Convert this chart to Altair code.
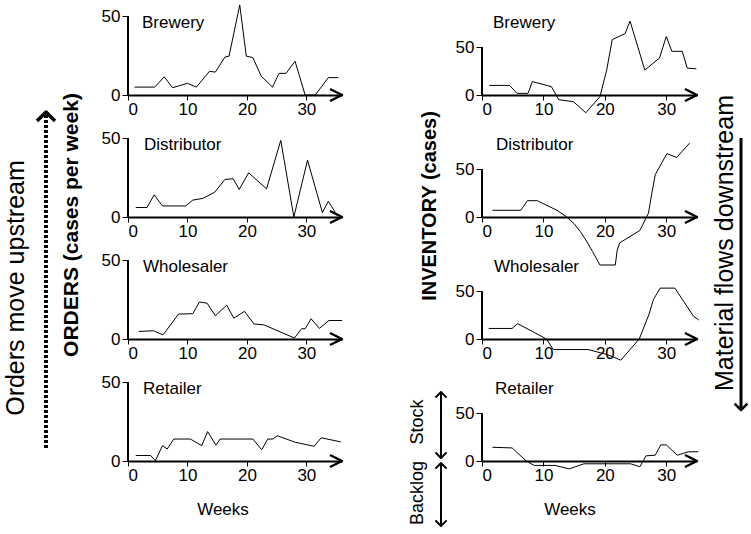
import altair as alt
import pandas as pd

FONT = "Liberation Sans"

# ---------------- data ----------------
# ORDERS (cases per week)
ord_brewery_w = [1.1, 4.5, 6.1, 7.5, 10, 11.5, 13.7, 14.7, 16.3, 17, 18.8, 19.9, 21, 22.4, 24.3, 25.4, 26.6, 28.1, 29.8, 31.5, 33.7, 35.4]
ord_brewery_v = [5, 5, 11.5, 4.6, 7.4, 5, 15, 14.5, 24, 24.6, 57, 24.6, 23.7, 12, 5, 13.7, 13.7, 21.4, 0, 0, 11, 11]

ord_distrib_w = [1.3, 3.2, 4.4, 5.8, 9.7, 10.9, 12.6, 14.6, 16.3, 17.7, 18.7, 20.3, 23.3, 25.7, 27.9, 30.2, 32.7, 33.7, 34.9]
ord_distrib_v = [6, 6, 14, 7, 7, 10.7, 11.8, 15.7, 23.8, 24.2, 17.4, 28, 17.8, 48.5, 0, 36, 2.8, 9.9, 2.8]

ord_wholes_w = [1.8, 4.3, 5.9, 8.5, 10.9, 12, 13.3, 14.7, 16.6, 17.8, 19.6, 21.2, 22.9, 28, 29.2, 29.8, 30.8, 32.2, 33.8, 36]
ord_wholes_v = [4.8, 5.2, 2.6, 15.8, 16, 23.4, 22.7, 14.7, 21.4, 13.2, 17.5, 9.5, 8.9, 0.6, 6.5, 6.5, 12.8, 6.7, 11.7, 11.7]

ord_retail_w = [1.3, 3.8, 4.6, 5.8, 6.6, 7.7, 10.5, 12.4, 13.4, 14.8, 15.5, 21, 22.5, 23.5, 24.4, 25.1, 28.1, 31.3, 32.5, 35.8]
ord_retail_v = [3.5, 3.5, 0.2, 9.7, 7.6, 13.9, 13.9, 9.7, 18.6, 10, 13.9, 13.9, 7.1, 13.9, 13.9, 16, 11.9, 9.3, 14.7, 12.1]

# INVENTORY (cases)
inv_brewery_w = [1.2, 4.5, 5.7, 7.5, 8.2, 11.3, 12.5, 14.9, 16.9, 19.2, 20.3, 21.2, 23.3, 24.1, 26.5, 28.9, 30, 30.9, 32.6, 33.4, 34.9]
inv_brewery_v = [10, 10, 1.7, 1.7, 14, 8.7, -4.9, -7, -18.5, -1.7, 26, 57.7, 64, 77, 26, 38.5, 61, 45.5, 45.5, 28, 27.3]

inv_distrib_w = [1.7, 6.3, 7.4, 9, 12.2, 13.8, 15, 16, 17, 18, 19.2, 21.7, 22, 22.4, 25.7, 27.1, 27.6, 28.2, 30.1, 31.7, 33.8]
inv_distrib_v = [7, 7, 17, 17, 7, 0, -7, -15, -25, -36, -50, -50, -35, -27, -14, 4, 23, 44, 66, 62, 77]

inv_wholes_w = [1.1, 4.9, 5.8, 10.5, 11.6, 17.3, 20.5, 22.6, 25.6, 27.2, 27.9, 29, 31.4, 34.4, 35.3]
inv_wholes_v = [11, 11, 16, 0, -11, -11, -16.5, -22, 0, 26, 41, 53, 53, 24, 19.7]

inv_retail_w = [1.7, 4.9, 7.2, 8.5, 11.9, 14.2, 16.6, 24.2, 25.7, 26.7, 28.2, 29.1, 30, 31.8, 33.6, 35.2]
inv_retail_v = [14.3, 13.6, 0, -4.6, -4.6, -8.2, -2.9, -2.9, -6, 5.4, 6, 16.8, 16.8, 6, 9.6, 9.6]

x_ticks = [0, 10, 20, 30]
y_ticks = [0, 50]

# ---------------- layout constants ----------------
H = 122          # panel height (px)
ZERO_PX = 79     # zero line distance from panel top
one = pd.DataFrame({"k": [0]})


def ann_text(text, x, y, size=17, bold=False, angle=0):
    return alt.Chart(one).mark_text(
        text=text, font=FONT, fontSize=size, fontWeight="bold" if bold else "normal",
        angle=angle, align="center", baseline="middle", color="black"
    ).encode(x=alt.value(x), y=alt.value(y))


def chevron(x, y, path, side, sw):
    return alt.Chart(one).mark_point(
        shape=path, size=side * side, filled=False, color="black", strokeWidth=sw,
        opacity=1, strokeJoin="round"
    ).encode(x=alt.value(x), y=alt.value(y))


def vrule(x, y1, y2, sw, dash=None):
    kw = dict(color="black", strokeWidth=sw)
    if dash:
        kw["strokeDash"] = dash
    return alt.Chart(one).mark_rule(**kw).encode(x=alt.value(x), y=alt.value(y1), y2=alt.value(y2))


def panel(weeks, vals, title, xmax, width, ppu, title_dx, extras=()):
    top = ZERO_PX / ppu
    bottom = -(H - ZERO_PX) / ppu
    df = pd.DataFrame({"week": weeks, "value": vals})
    xs = alt.Scale(domain=[0, xmax], nice=False, zero=False)
    ys = alt.Scale(domain=[bottom, top], nice=False, zero=False)
    x = alt.X("week:Q", scale=xs, axis=alt.Axis(
        values=x_ticks, offset=-(H - ZERO_PX), title=None, grid=False,
        domainWidth=2, domainColor="black", tickColor="black", tickWidth=1, tickSize=5,
        labelFontSize=17, labelFont=FONT, labelColor="black", labelPadding=1))
    y = alt.Y("value:Q", scale=ys, axis=alt.Axis(
        values=y_ticks, domain=False, title=None, grid=False, tickColor="black",
        tickWidth=1, tickSize=6, labelFontSize=17, labelFont=FONT, labelColor="black",
        labelPadding=2))
    line = alt.Chart(df).mark_line(color="black", strokeWidth=1).encode(x=x, y=y)
    yaxis_line = alt.Chart(one).mark_rule(color="black", strokeWidth=2).encode(
        x=alt.datum(0), y=alt.datum(0), y2=alt.datum(50))
    arrow = alt.Chart(one).mark_point(
        shape="M-1,-0.5L0,0L-1,0.5", size=576, filled=False, color="black",
        strokeWidth=2.5, opacity=1, strokeJoin="round").encode(x=alt.datum(xmax), y=alt.datum(0))
    ttl = alt.Chart(one).mark_text(text=title, font=FONT, fontSize=17, align="left",
                                   baseline="alphabetic", color="black").encode(
        x=alt.value(title_dx), y=alt.value(11.5))
    layers = [line, yaxis_line, arrow, ttl] + list(extras)
    return alt.layer(*layers).properties(width=width, height=H)


LW, RW = 214, 215
LPPU, RPPU = 79 / 50, 48 / 50

left_extras_top = [
    ann_text("ORDERS (cases per week)", -56, 209, 21, bold=True, angle=270),
    ann_text("Orders move upstream", -112, 272, 25, angle=270),
    vrule(-82, 99, 432, 4, dash=[3, 2]),
    chevron(-82, 96, "M-0.9,0.9L0,0L0.9,0.9", 20, 3.5),
]
right_extras_top = [
    ann_text("INVENTORY (cases)", -52, 190, 20, bold=True, angle=270),
    ann_text("Material flows downstream", 243, 227, 25, angle=270),
    vrule(259, 122, 392, 3),
    chevron(259, 394, "M-0.8,-0.8L0,0L0.8,-0.8", 16, 2.5),
]
left_extras_bot = [ann_text("Weeks", 95, 128, 17)]
right_extras_bot = [
    ann_text("Weeks", 88, 128, 17),
    ann_text("Stock", -64, 40, 18, angle=270),
    ann_text("Backlog", -64, 111, 18, angle=270),
    vrule(-41, 11, 75, 2),
    chevron(-41, 10, "M-0.8,0.8L0,0L0.8,0.8", 14, 2),
    chevron(-41, 76, "M-0.8,-0.8L0,0L0.8,-0.8", 14, 2),
    vrule(-41, 82, 143, 2),
    chevron(-41, 81, "M-0.8,0.8L0,0L0.8,0.8", 14, 2),
    chevron(-41, 144, "M-0.8,-0.8L0,0L0.8,-0.8", 14, 2),
]

panels = [
    panel(ord_brewery_w, ord_brewery_v, "Brewery", 36, LW, LPPU, 14, left_extras_top),
    panel(inv_brewery_w, inv_brewery_v, "Brewery", 35, RW, RPPU, 11, right_extras_top),
    panel(ord_distrib_w, ord_distrib_v, "Distributor", 36, LW, LPPU, 16),
    panel(inv_distrib_w, inv_distrib_v, "Distributor", 35, RW, RPPU, 14),
    panel(ord_wholes_w, ord_wholes_v, "Wholesaler", 36, LW, LPPU, 15),
    panel(inv_wholes_w, inv_wholes_v, "Wholesaler", 35, RW, RPPU, 12),
    panel(ord_retail_w, ord_retail_v, "Retailer", 36, LW, LPPU, 15, left_extras_bot),
    panel(inv_retail_w, inv_retail_v, "Retailer", 35, RW, RPPU, 13, right_extras_bot),
]

chart = alt.concat(*panels, columns=2, spacing={"row": 0, "column": 140},
                   bounds="flush").properties(
    padding={"left": 4, "top": 2, "right": 0, "bottom": 0}
).configure(background="white").configure_view(stroke=None)

chart.save("out.html", embed_options={"renderer": "svg", "actions": False})
